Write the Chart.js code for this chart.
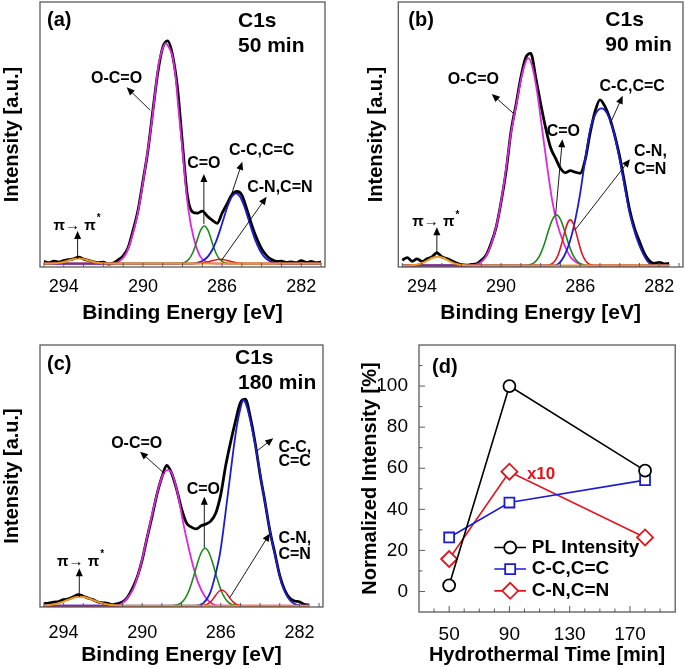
<!DOCTYPE html>
<html>
<head>
<meta charset="utf-8">
<title>C1s XPS</title>
<script src="https://cdn.jsdelivr.net/npm/chart.js"></script>
<style>
  html, body { margin: 0; padding: 0; background: #fff; }
  #wrap { position: relative; width: 685px; height: 668px; overflow: hidden; }
  canvas { position: absolute; }
</style>
</head>
<body>
<div id="wrap">
  <canvas id="chartA" width="342" height="330" style="left:0;top:0"></canvas>
  <canvas id="chartB" width="327" height="330" style="left:358px;top:0"></canvas>
  <canvas id="chartC" width="342" height="338" style="left:0;top:330px"></canvas>
  <canvas id="chartD" width="340" height="338" style="left:345px;top:330px"></canvas>
</div>
<script>
// ---- datos ----
const energyTicks = [294, 290, 286, 282];
const energyMinor = [295, 294, 293, 292, 291, 290, 289, 288, 287, 286, 285, 284, 283, 282, 281];

// energia de la curva medida (paso 0.25 eV)
const rawEnergy = [295, 294.75, 294.5, 294.25, 294, 293.75, 293.5, 293.25, 293, 292.75, 292.5, 292.25,
  292, 291.75, 291.5, 291.25, 291, 290.75, 290.5, 290.25, 290, 289.75, 289.5, 289.25, 289, 288.75,
  288.5, 288.25, 288, 287.75, 287.5, 287.25, 287, 286.75, 286.5, 286.25, 286, 285.75, 285.5, 285.25,
  285, 284.75, 284.5, 284.25, 284, 283.75, 283.5, 283.25, 283, 282.75, 282.5, 282.25, 282, 281.75,
  281.5, 281.25, 281];

// (a) 50 min
const rawA = [0.8, 0.3, 0.9, 0.5, 1.1, 1.5, 1.8, 2.4, 1.7, 1.2, 0.6, 0.3, 0.5, -0.2, 0.2, 1.4, 2.9, 6.0,
  12.5, 20.0, 31.0, 42.5, 57.5, 72.0, 81.5, 84.0, 78.5, 66.0, 45.0, 25.5, 19.5, 19.0, 19.8, 17.9, 16.4,
  15.2, 19.0, 22.5, 26.0, 27.2, 25.8, 20.5, 14.5, 9.5, 5.5, 3.0, 1.5, 0.8, 0.9, 0.4, 0.6, 0.3, 1.1, 0.4,
  0.8, 0.3, 0.6];
const aOCO = [[295,0],[291.5,0],[291.2,0.8],[290.85,3.8],[290.5,11.4],[290.2,21.4],[289.95,32.8],[289.7,45.4],
  [289.5,56.7],[289.35,66.7],[289.2,75.5],[289.0,81.2],[288.85,83.1],[288.7,81.8],[288.5,78.0],[288.35,70.5],
  [288.2,57.9],[288.0,42.8],[287.85,30.3],[287.7,20.2],[287.45,10.1],[287.1,2.6],[286.75,0.5],[286.3,0],[281,0]];
const aCO = [[295,0],[288.2,0],[287.9,0.4],[287.7,1.4],[287.5,3.8],[287.3,7.9],[287.1,12.3],[286.9,14.2],
  [286.7,12.3],[286.5,7.9],[286.3,3.8],[286.1,1.4],[285.9,0.4],[285.6,0],[281,0]];
const aCC = [[295,0],[287.5,0],[287.1,0.6],[286.9,1.4],[286.7,2.8],[286.5,5.1],[286.3,8.4],[286.1,12.7],
  [285.9,17.5],[285.7,22.0],[285.5,25.3],[285.3,26.5],[285.1,25.3],[284.9,22.0],[284.7,17.5],[284.5,12.7],
  [284.3,8.4],[284.1,5.1],[283.9,2.8],[283.7,1.4],[283.5,0.6],[283.1,0],[281,0]];
const aCN = [[295,0],[287.4,0],[287.0,0.2],[286.7,0.66],[286.4,1.28],[286.1,1.6],[285.8,1.28],[285.5,0.66],
  [285.2,0.2],[284.8,0],[281,0]];
const aPi = [[295,0],[294.75,0],[294.5,0.08],[294.25,0.26],[294.0,0.62],[293.75,1.15],[293.5,1.67],[293.25,1.9],
  [293.0,1.67],[292.75,1.15],[292.5,0.62],[292.25,0.26],[292.0,0.08],[291.75,0],[281,0]];

// (b) 90 min
const rawB = [2.0, 3.0, 1.6, 2.5, 1.5, 2.5, 3.2, 4.8, 3.3, 2.6, 1.8, 0.9, 0.3, 0.1, 0.4, 0.6, 2.0, 4.0, 8.5,
  14.5, 24.0, 35.5, 50.5, 60.5, 71.0, 78.5, 80.0, 71.0, 61.0, 52.0, 44.5, 40.5, 36.7, 35.0, 35.8, 35.2, 34.8,
  39.8, 49.9, 58.0, 62.5, 60.0, 55.5, 49.0, 41.0, 31.0, 21.0, 14.0, 9.0, 4.5, 1.8, 0.8, 1.2, 0.6, 0.8];
const bOCO = [[295,0],[291.6,0],[291.1,0.8],[290.8,3.0],[290.5,8.0],[290.17,17.2],[289.83,32.3],[289.5,49.9],
  [289.25,59.9],[289.0,70],[288.84,75],[288.63,78.2],[288.42,75],[288.17,65],[287.92,51.1],[287.67,37.3],
  [287.42,24.7],[287.17,15.9],[286.83,8.4],[286.5,3.3],[286.0,0.5],[285.5,0],[281.5,0]];
const bCO = [[295,0],[288.8,0],[288.6,0.2],[288.4,0.7],[288.2,2.0],[288.0,4.5],[287.8,8.4],[287.6,13.3],
  [287.4,17.4],[287.2,19.1],[287.0,17.4],[286.8,13.3],[286.6,8.4],[286.4,4.5],[286.2,2.0],[286.0,0.7],
  [285.8,0.2],[285.6,0],[281.5,0]];
const bCC = [[295,0],[287.4,0],[287.17,0.3],[286.83,3.3],[286.5,9.6],[286.25,17.2],[286.0,27.2],[285.75,39.8],
  [285.5,51.1],[285.2,57.5],[284.92,59.3],[284.65,57.5],[284.33,51.1],[284.0,39.8],[283.75,29.7],[283.5,19.7],
  [283.17,10.9],[282.83,4.6],[282.5,0.8],[282.2,0],[281.5,0]];
const bCN = [[295,0],[287.7,0],[287.55,0.24],[287.4,0.8],[287.25,2.0],[287.1,4.3],[286.95,7.9],[286.8,12.2],
  [286.65,15.8],[286.5,17.2],[286.35,15.8],[286.2,12.2],[286.05,7.9],[285.9,4.3],[285.75,2.0],[285.6,0.8],
  [285.45,0.24],[285.3,0],[281.5,0]];
const bPi = [[295,0],[294.7,0],[294.45,0.15],[294.2,0.45],[293.95,1.07],[293.7,2.0],[293.45,2.9],[293.2,3.3],
  [292.95,2.9],[292.7,2.0],[292.45,1.07],[292.2,0.45],[291.95,0.15],[291.7,0],[281.5,0]];

// (c) 180 min
const rawC = [0.8, 1.0, 1.4, 1.6, 2.3, 2.6, 3.4, 4.2, 3.6, 2.9, 2.3, 1.4, 1.1, 0.9, 0.4, 0.8, 1.4, 3.2, 6.5,
  11.0, 17.5, 26.0, 34.0, 42.5, 49.0, 53.5, 50.5, 44.5, 37.0, 31.6, 30.0, 29.3, 30.5, 31.2, 32.4, 35.5, 42.5,
  53.5, 62.5, 70.5, 77.5, 78.8, 72.0, 62.0, 50.0, 39.5, 28.5, 20.0, 11.5, 6.0, 3.0, 1.8, 1.5, 0.5, 0.3];
const cOCO = [[295,0],[291.5,0],[291.13,0.4],[290.8,2.5],[290.45,6.5],[290.11,14.5],[289.77,25.5],[289.43,37],
  [289.09,47],[288.88,50.8],[288.67,51.8],[288.42,49.2],[288.16,41.6],[287.91,31.5],[287.65,22.5],[287.4,14.9],
  [287.14,8.5],[286.8,3.4],[286.38,0.5],[286.0,0],[281.5,0]];
const cCO = [[295,0],[288.5,0],[288.4,0.1],[288.2,0.4],[288.0,1.2],[287.8,3.0],[287.6,6.1],[287.4,10.7],
  [287.2,15.9],[287.0,20.2],[286.8,21.9],[286.6,20.2],[286.4,15.9],[286.2,10.7],[286.0,6.1],[285.8,3.0],
  [285.6,1.2],[285.4,0.4],[285.2,0.1],[285.0,0],[281.5,0]];
const cCC = [[295,0],[287.3,0],[286.9,0.9],[286.55,4.7],[286.3,11.1],[286.04,20],[285.87,28.9],[285.7,39.1],
  [285.53,49.2],[285.36,59.4],[285.19,68.3],[285.02,74.7],[284.85,78.5],[284.68,76],[284.43,68.3],[284.17,58.2],
  [283.92,46.7],[283.66,35.3],[283.41,25.1],[283.15,16.2],[282.9,8.5],[282.56,2.8],[282.14,0.3],[281.8,0],[281.5,0]];
const cCN = [[295,0],[287.0,0],[286.85,0.18],[286.7,0.5],[286.55,1.26],[286.4,2.5],[286.25,4.1],[286.1,5.4],
  [285.95,6.0],[285.8,5.4],[285.65,4.1],[285.5,2.5],[285.35,1.26],[285.2,0.5],[285.05,0.18],[284.9,0],[281.5,0]];
const cPi = [[295.0,0.1],[294.9,0.15],[294.65,0.34],[294.4,0.7],[294.15,1.2],[293.9,1.9],[293.65,2.6],[293.4,3.2],
  [293.15,3.4],[292.9,3.2],[292.65,2.6],[292.4,1.9],[292.15,1.2],[291.9,0.7],[291.65,0.34],[291.4,0.15],
  [291.15,0.06],[290.9,0],[281.5,0]];

// (d) intensidades normalizadas
const timeMin = [50, 90, 180];
const plIntensity = [3, 100, 58.8];
const ccIntensity = [26.3, 43.3, 54.2];
const cnIntensity = [15.8, 58.3, 26.3];   // x10
const timeTicks = [50, 90, 130, 170];
const timeMinor = [40, 60, 70, 80, 100, 110, 120, 140, 150, 160, 180, 190];
const intensityTicks = [0, 20, 40, 60, 80, 100];
const intensityMinor = [10, 30, 50, 70, 90, 110];

// ---- estilos ----
const FONT = "'Liberation Sans', Arial, Helvetica, sans-serif";
Chart.defaults.font.family = FONT;
Chart.defaults.color = '#000';
const COL = { raw: '#000000', oco: '#e026e0', co: '#1b8a1b', cc: '#1c1cd2', cn: '#e3141c', pi: '#f0961e' };

function curve(pairs, color, width, order) {
  return {
    data: pairs.map(([x, y]) => ({ x, y })),
    borderColor: color, borderWidth: width, pointRadius: 0,
    cubicInterpolationMode: 'monotone', fill: false, order
  };
}
function measured(values) {
  return {
    data: values.map((v, i) => ({ x: rawEnergy[i], y: v })),
    borderColor: COL.raw, borderWidth: 2.8, pointRadius: 0,
    cubicInterpolationMode: 'monotone', fill: false, order: 10
  };
}

function arrow(ctx, x1, y1, x2, y2) {
  const ang = Math.atan2(y2 - y1, x2 - x1), L = 8, W = 3.5;
  ctx.beginPath();
  ctx.moveTo(x1, y1);
  ctx.lineTo(x2 - Math.cos(ang) * L * 0.8, y2 - Math.sin(ang) * L * 0.8);
  ctx.stroke();
  ctx.beginPath();
  ctx.moveTo(x2, y2);
  ctx.lineTo(x2 - L * Math.cos(ang) + W * Math.sin(ang), y2 - L * Math.sin(ang) - W * Math.cos(ang));
  ctx.lineTo(x2 - L * Math.cos(ang) - W * Math.sin(ang), y2 - L * Math.sin(ang) + W * Math.cos(ang));
  ctx.closePath();
  ctx.fill();
}

function marker(ctx, style, x, y, color) {
  ctx.save();
  ctx.fillStyle = '#fff'; ctx.strokeStyle = color; ctx.lineWidth = 1.8;
  ctx.beginPath();
  if (style === 'circle') ctx.arc(x, y, 6, 0, Math.PI * 2);
  else if (style === 'rect') ctx.rect(x - 5, y - 5, 10, 10);
  else { ctx.moveTo(x, y - 8); ctx.lineTo(x + 8, y); ctx.lineTo(x, y + 8); ctx.lineTo(x - 8, y); ctx.closePath(); }
  ctx.fill(); ctx.stroke();
  ctx.restore();
}

// marco, marcas interiores, textos y flechas
const decor = {
  id: 'decor',
  afterDraw(chart, args, o) {
    const { ctx, chartArea: a } = chart;
    const sx = chart.scales.x, sy = chart.scales.y;
    const px = v => sx.getPixelForValue(v), py = v => sy.getPixelForValue(v);
    ctx.save();
    ctx.strokeStyle = '#5a5a5a'; ctx.lineWidth = 1.3;
    ctx.strokeRect(a.left, a.top, a.right - a.left, a.bottom - a.top);
    ctx.lineWidth = 1;
    ctx.beginPath();
    (o.xMajor || []).forEach(v => { ctx.moveTo(px(v), a.bottom); ctx.lineTo(px(v), a.bottom - o.majorLen); });
    (o.xMinor || []).forEach(v => { ctx.moveTo(px(v), a.bottom); ctx.lineTo(px(v), a.bottom - o.minorLen); });
    (o.yMajor || []).forEach(v => { ctx.moveTo(a.left, py(v)); ctx.lineTo(a.left + o.majorLen, py(v)); });
    (o.yMinor || []).forEach(v => { ctx.moveTo(a.left, py(v)); ctx.lineTo(a.left + o.minorLen, py(v)); });
    ctx.stroke();

    ctx.fillStyle = '#000'; ctx.strokeStyle = '#000'; ctx.lineWidth = 0.9;
    (o.arrows || []).forEach(([x1, y1, x2, y2]) => arrow(ctx, px(x1), py(y1), px(x2), py(y2)));

    ctx.textBaseline = 'middle';
    (o.corner || []).forEach(t => {
      ctx.font = 'bold ' + t.size + 'px ' + FONT;
      ctx.textAlign = 'left';
      ctx.fillText(t.text, a.left + t.dx, a.top + t.dy);
    });
    (o.labels || []).forEach(t => {
      ctx.font = 'bold ' + (t.size || 16) + 'px ' + FONT;
      ctx.fillStyle = t.color || '#000';
      const w = ctx.measureText(t.text).width;
      let x0 = t.align === 'left' ? px(t.x) : px(t.x) - w / 2;
      if (t.sup) {
        ctx.font = 'bold 10px ' + FONT;
        const ws = ctx.measureText(t.sup).width;
        x0 -= ws / 2;
        ctx.textAlign = 'left';
        ctx.fillText(t.sup, x0 + w + 1, py(t.y) - 7);
        ctx.font = 'bold ' + (t.size || 16) + 'px ' + FONT;
      }
      ctx.textAlign = 'left';
      ctx.fillText(t.text, x0, py(t.y));
    });
    (o.legend || []).forEach(r => {
      const y = py(r.y);
      ctx.strokeStyle = r.color; ctx.lineWidth = 1.6;
      ctx.beginPath(); ctx.moveTo(px(r.x1), y); ctx.lineTo(px(r.x2), y); ctx.stroke();
      marker(ctx, r.style, px((r.x1 + r.x2) / 2), y, r.color);
      ctx.fillStyle = '#000'; ctx.textAlign = 'left';
      ctx.font = 'bold 19px ' + FONT;
      ctx.fillText(r.text, px(r.xt), y);
    });
    ctx.restore();
  }
};

function spectrum(id, datasets, o) {
  return new Chart(document.getElementById(id), {
    type: 'line',
    data: { datasets },
    options: {
      responsive: false, animation: false, devicePixelRatio: 1,
      layout: { padding: o.padding },
      plugins: { legend: { display: false }, tooltip: { enabled: false }, decor: o.decor },
      scales: {
        x: {
          type: 'linear', reverse: true, min: 280.8, max: 295.2,
          afterBuildTicks: ax => { ax.ticks = energyTicks.map(v => ({ value: v })); },
          afterFit: ax => { ax.height = o.xHeight; },
          grid: { display: false }, border: { display: false },
          ticks: { color: '#000', font: { size: 18 }, padding: o.tickPad, maxRotation: 0, autoSkip: false },
          title: { display: true, text: 'Binding Energy [eV]', color: '#000',
                   font: { size: 21, weight: 'bold' }, padding: { top: 0, bottom: o.titlePad } }
        },
        y: {
          type: 'linear', min: o.yMin, max: o.yMax,
          afterFit: ax => { ax.width = o.yWidth; },
          grid: { display: false }, border: { display: false }, ticks: { display: false },
          title: { display: true, text: 'Intensity [a.u.]', color: '#000',
                   font: { size: 20, weight: 'bold' }, padding: { top: o.yTitlePad, bottom: 0 } }
        }
      }
    },
    plugins: [decor]
  });
}

spectrum('chartA', [
  measured(rawA),
  curve(aOCO, COL.oco, 1.8, 5), curve(aCO, COL.co, 1.6, 4), curve(aCC, COL.cc, 1.8, 3),
  curve(aCN, COL.cn, 1.5, 2), curve(aPi, COL.pi, 2, 1)
], {
  padding: { left: 0, top: 2, right: 17, bottom: 0 }, xHeight: 63, yWidth: 40,
  yMin: -1.3, yMax: 98.7, tickPad: 1, titlePad: 4, yTitlePad: 0,
  decor: {
    xMinor: energyMinor, minorLen: 4, majorLen: 4,
    corner: [{ text: '(a)', dx: 7, dy: 18, size: 20 }, { text: 'C1s', dx: 198, dy: 19, size: 21 },
             { text: '50 min', dx: 198, dy: 44, size: 21 }],
    labels: [{ text: 'O-C=O', x: 291.33, y: 69.9 }, { text: 'C=O', x: 286.92, y: 37.8 },
             { text: 'C-C,C=C', x: 284.0, y: 42.8 }, { text: 'C-N,C=N', x: 283.08, y: 28.8 },
             { text: 'π→ π', sup: '*', x: 293.35, y: 14.4, size: 15 }],
    arrows: [[289.64, 57.9, 290.82, 66.5], [286.92, 14.9, 286.92, 33.8], [285.52, 26.2, 284.98, 38.4],
             [286.02, 1.3, 283.75, 25.2], [293.3, 1.8, 293.3, 12.3]]
  }
});

spectrum('chartB', [
  measured(rawB),
  curve(bOCO, COL.oco, 1.8, 5), curve(bCO, COL.co, 1.6, 4), curve(bCC, COL.cc, 1.8, 3),
  curve(bCN, COL.cn, 1.6, 2), curve(bPi, COL.pi, 2, 1)
], {
  padding: { left: 0, top: 2, right: 2, bottom: 0 }, xHeight: 63, yWidth: 40.3,
  yMin: -0.57, yMax: 99.4, tickPad: 1, titlePad: 4, yTitlePad: 6.7,
  decor: {
    xMinor: energyMinor, minorLen: 4, majorLen: 4,
    corner: [{ text: '(b)', dx: 10, dy: 18, size: 20 }, { text: 'C1s', dx: 207, dy: 18, size: 21 },
             { text: '90 min', dx: 207, dy: 43, size: 21 }],
    labels: [{ text: 'O-C=O', x: 291.4, y: 70 }, { text: 'C=O', x: 286.85, y: 50.5 },
             { text: 'C-C,C=C', x: 283.37, y: 67.5 }, { text: 'C-N,', x: 283.28, y: 42.9, align: 'left' },
             { text: 'C=N', x: 283.28, y: 36, align: 'left' }, { text: 'π→ π', sup: '*', x: 293.33, y: 16.5, size: 15 }],
    arrows: [[289.38, 57.4, 290.47, 64.7], [287.24, 19.4, 286.9, 47.6], [284.49, 53.4, 283.85, 64],
             [286.26, 13.4, 283.48, 40.1], [293.25, 4.6, 293.25, 14.4]]
  }
});

spectrum('chartC', [
  measured(rawC),
  curve(cOCO, COL.oco, 1.8, 5), curve(cCO, COL.co, 1.6, 4), curve(cCC, COL.cc, 1.8, 3),
  curve(cCN, COL.cn, 1.5, 2), curve(cPi, COL.pi, 2, 1)
], {
  padding: { left: 0, top: 15, right: 19, bottom: 0 }, xHeight: 61, yWidth: 40,
  yMin: -0.5, yMax: 99.5, tickPad: 7, titlePad: 0, yTitlePad: 0.5,
  decor: {
    xMinor: energyMinor, minorLen: 4, majorLen: 4,
    corner: [{ text: '(c)', dx: 7, dy: 19, size: 20 }, { text: 'C1s', dx: 195, dy: 13, size: 21 },
             { text: '180 min', dx: 198, dy: 38, size: 21 }],
    labels: [{ text: 'O-C=O', x: 290.28, y: 61.7 }, { text: 'C=O', x: 286.89, y: 44.4 },
             { text: 'C-C,', x: 283.07, y: 60.3, align: 'left' }, { text: 'C=C', x: 283.07, y: 55, align: 'left' },
             { text: 'C-N,', x: 283.07, y: 25.7, align: 'left' }, { text: 'C=N', x: 283.07, y: 19.4, align: 'left' },
             { text: 'π→ π', sup: '*', x: 293.16, y: 16.8, size: 15 }],
    arrows: [[288.84, 50.3, 290.11, 58.8], [286.84, 22.1, 286.84, 41.6], [284.14, 59.2, 283.33, 63.9],
             [285.53, 3.2, 283.5, 27.6], [293.2, 3.4, 293.2, 14.3]]
  }
});

// (d) intensidad normalizada vs tiempo hidrotermal
function series(values, color, style, radius) {
  return {
    data: timeMin.map((t, i) => ({ x: t, y: values[i] })),
    borderColor: color, borderWidth: 1.6, tension: 0,
    pointStyle: style, pointRadius: radius, pointBorderWidth: 1.8,
    pointBackgroundColor: '#fff', pointBorderColor: color, fill: false
  };
}
new Chart(document.getElementById('chartD'), {
  type: 'line',
  data: {
    datasets: [
      series(plIntensity, '#000', 'circle', 6),
      series(ccIntensity, COL.cc, 'rect', 7),
      series(cnIntensity, COL.cn, 'rectRot', 8)
    ]
  },
  options: {
    responsive: false, animation: false, devicePixelRatio: 1,
    layout: { padding: { left: 0, top: 15, right: 7, bottom: 0 } },
    plugins: {
      legend: { display: false }, tooltip: { enabled: false },
      decor: {
        xMajor: timeTicks, xMinor: timeMinor, yMajor: intensityTicks, yMinor: intensityMinor,
        majorLen: 6, minorLen: 3.5,
        corner: [{ text: '(d)', dx: 13, dy: 22, size: 20 }],
        labels: [{ text: 'x10', x: 111, y: 56.8, size: 17, color: COL.cn }],
        legend: [
          { text: 'PL Intensity', color: '#000', style: 'circle', x1: 80, x2: 101, xt: 104.8, y: 21.4 },
          { text: 'C-C,C=C', color: COL.cc, style: 'rect', x1: 80, x2: 101, xt: 104.8, y: 10.9 },
          { text: 'C-N,C=N', color: COL.cn, style: 'diamond', x1: 80, x2: 101, xt: 104.8, y: 0.3 }
        ]
      }
    },
    scales: {
      x: {
        type: 'linear', min: 30, max: 200,
        afterBuildTicks: ax => { ax.ticks = timeTicks.map(v => ({ value: v })); },
        afterFit: ax => { ax.height = 56; },
        grid: { display: false }, border: { display: false },
        ticks: { color: '#000', font: { size: 19 }, padding: 3, maxRotation: 0, autoSkip: false },
        title: { display: true, text: 'Hydrothermal Time [min]', color: '#000',
                 font: { size: 20, weight: 'bold' }, padding: { top: 0, bottom: 1 } }
      },
      y: {
        type: 'linear', min: -10, max: 120,
        afterBuildTicks: ax => { ax.ticks = intensityTicks.map(v => ({ value: v })); },
        afterFit: ax => { ax.width = 74; },
        grid: { display: false }, border: { display: false },
        ticks: { color: '#000', font: { size: 19 }, padding: 3 },
        title: { display: true, text: 'Normalized Intensity [%]', color: '#000',
                 font: { size: 20, weight: 'bold' }, padding: { top: 13, bottom: 0 } }
      }
    }
  },
  plugins: [decor]
});
</script>
</body>
</html>
